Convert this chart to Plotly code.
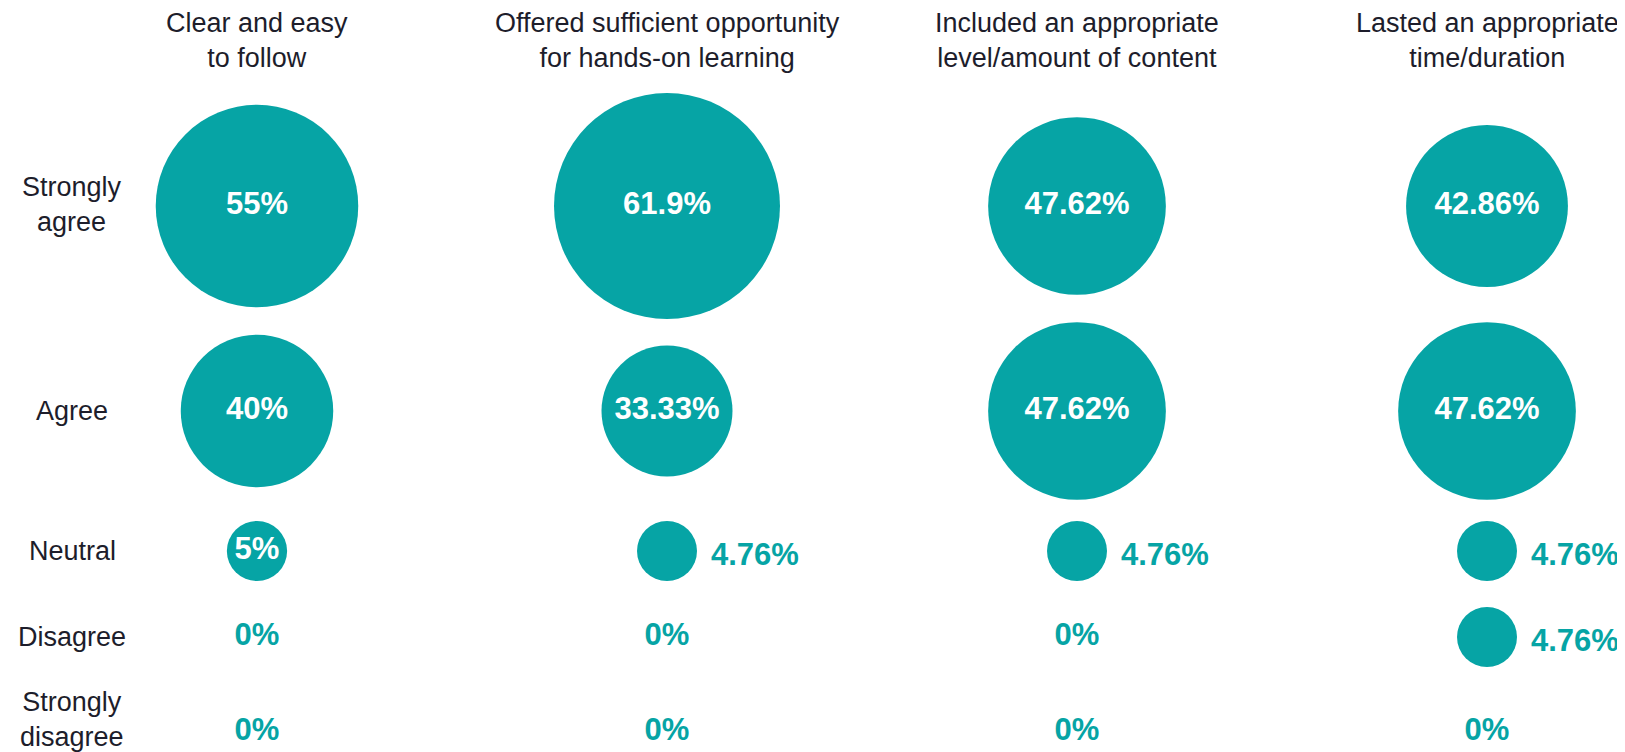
import math
import plotly.graph_objects as go

# ---------------- data ----------------
columns = [
    "Clear and easy<br>to follow",
    "Offered sufficient opportunity<br>for hands-on learning",
    "Included an appropriate<br>level/amount of content",
    "Lasted an appropriate<br>time/duration",
]
rows = ["Strongly<br>agree", "Agree", "Neutral", "Disagree", "Strongly<br>disagree"]

clear_easy = [55, 40, 5, 0, 0]
hands_on = [61.9, 33.33, 4.76, 0, 0]
content_level = [47.62, 47.62, 4.76, 0, 0]
duration = [42.86, 47.62, 4.76, 4.76, 0]
series = [clear_easy, hands_on, content_level, duration]

# ---------------- layout / style ----------------
W, H = 1625, 752
TEAL = "#06A4A5"
DARK = "#1d1d2b"
FONT = "Liberation Sans, Arial, sans-serif"
ROW_CENTERS = [198, 403, 543, 629, 724]  # vertical layout of the rows (axis units)
ROW_LABEL_SHIFT = [2, 0, 0, 0, 13]       # keeps the last two-line label inside the page
X_RANGE = [-0.6073, 3.3561]
D0, K = 57.6, 3.53  # bubble diameter scale


def diameter(v):
    return 0 if v == 0 else math.sqrt(D0 ** 2 + (K * v) ** 2)


def label(v):
    return f"{v:g}%"


xs, ys, sizes, texts, tcolors = [], [], [], [], []
annotations = []
for ci, col in enumerate(columns):
    for ri, v in enumerate(series[ci]):
        d = diameter(v)
        xs.append(col)
        ys.append(ROW_CENTERS[ri])
        sizes.append(d)
        txt = label(v)
        est_w = 0.56 * 31 * len(txt)
        if v == 0:
            texts.append(txt)
            tcolors.append(TEAL)
        elif est_w < d:
            texts.append(txt)
            tcolors.append("white")
        else:
            texts.append("")
            tcolors.append(TEAL)
            annotations.append(dict(
                x=col, y=ROW_CENTERS[ri], xref="x", yref="y",
                text=txt, showarrow=False, xanchor="left", yanchor="middle",
                xshift=d / 2 + 12, yshift=-3,
                font=dict(family=FONT, size=31, color=TEAL, weight="bold"),
            ))

fig = go.Figure(go.Scatter(
    x=xs, y=ys, mode="markers+text",
    marker=dict(size=sizes, sizemode="diameter", color=TEAL, line=dict(width=0), opacity=1),
    text=texts, textposition="middle center",
    textfont=dict(family=FONT, size=31, color=tcolors, weight="bold"),
    hoverinfo="skip", cliponaxis=False,
))

for col in columns:
    annotations.append(dict(
        x=col, y=0.957, xref="x", yref="paper", text=col, showarrow=False,
        xanchor="center", yanchor="middle", align="center",
        font=dict(family=FONT, size=27, color=DARK),
    ))
for ri, r in enumerate(rows):
    annotations.append(dict(
        x=64 / W, y=ROW_CENTERS[ri], xref="paper", yref="y", text=r, showarrow=False,
        xanchor="center", yanchor="middle", align="center", yshift=ROW_LABEL_SHIFT[ri],
        font=dict(family=FONT, size=27, color=DARK),
    ))

fig.update_layout(
    width=W, height=H,
    margin=dict(l=0, r=0, t=0, b=0),
    paper_bgcolor="white", plot_bgcolor="white",
    showlegend=False,
    xaxis=dict(type="category", categoryorder="array", categoryarray=columns,
               range=X_RANGE, visible=False, fixedrange=True),
    yaxis=dict(range=[H, 0], visible=False, fixedrange=True),
    annotations=annotations,
)

fig.write_html("out.html")
